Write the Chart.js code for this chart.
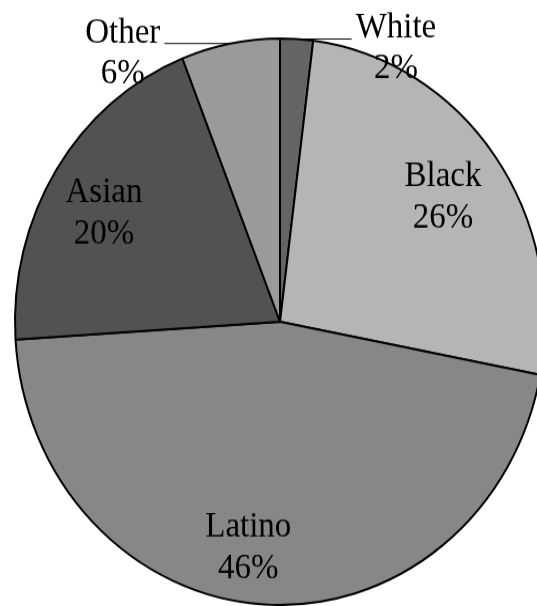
<!DOCTYPE html>
<html>
<head>
<meta charset="utf-8">
<script src="https://cdn.jsdelivr.net/npm/chart.js@4.4.1/dist/chart.umd.min.js"></script>
<style>
	body {margin:0; background:#ffffff;}
	#ChartFrame {width:537px; height:606px; overflow:hidden; background:#ffffff;}
	/* the pie is drawn round, then stretched a little taller */
	#ChartStretch {width:560px; height:567px; transform:scaleY(1.0688); transform-origin:0 0;}
</style>
</head>
<body>
<div id="ChartFrame"><div id="ChartStretch"><canvas id="EthnicityPie" width="560" height="567"></canvas></div></div>
<script>
var ChartLabels = ['White','Black','Latino','Asian','Other'];
var ChartValues = [2,26,46,20,6];
var ChartColors = ['#646464','#b5b5b5','#878787','#525252','#9a9a9a'];

/* =========================================================== SLICE LABEL plugin START =========================================================== */
var SliceLabelPlugin =
{
	id:'sliceLabels',
	afterDatasetsDraw: function(chart,args,opts)
	{
		var ctx = chart.ctx;
		var meta = chart.getDatasetMeta(0);
		ctx.save();
		ctx.font = opts.font;
		ctx.fillStyle = '#000000';
		ctx.strokeStyle = '#000000';
		ctx.textAlign = 'center';
		ctx.textBaseline = 'alphabetic';

		meta.data.forEach(function(arc,i)
		{
			var place = opts.placement[i] || {};
			var mid = (arc.startAngle+arc.endAngle)/2 + (place.turn || 0)*Math.PI/180;
			var lines = [ChartLabels[i], ChartValues[i]+'%'];

			if(place.leader)
			{
				//small slices: label outside with a flat leader line
				var ex = arc.x + Math.cos(mid)*arc.outerRadius;
				var ey = arc.y + Math.sin(mid)*arc.outerRadius;
				var dir = Math.cos(mid) >= 0 ? 1 : -1;
				var endX = ex + dir*place.leader;
				ctx.beginPath();
				ctx.lineWidth = 1;
				ctx.moveTo(ex,ey);
				ctx.lineTo(endX,ey);
				ctx.stroke();
				var w = ctx.measureText(lines[0]).width;
				var textX = endX + dir*(opts.gap + w/2);
				var base = ey + (place.lift || 0);
				ctx.fillText(lines[0],textX,base);
				ctx.fillText(lines[1],textX,base+opts.lineHeight);
			}
			else
			{
				var r = arc.outerRadius*(place.depth || opts.depth);
				var cx = arc.x + Math.cos(mid)*r;
				var cy = arc.y + Math.sin(mid)*r;
				//centre the block between cap top of line 1 and baseline of line 2
				var first = cy - (opts.capHeight+opts.lineHeight)/2 + opts.capHeight;
				ctx.fillText(lines[0],cx,first);
				ctx.fillText(lines[1],cx,first+opts.lineHeight);
			}
		});
		ctx.restore();
	}
};
/* =========================================================== SLICE LABEL plugin END =========================================================== */

var ChartDataToDisplay =
{
	labels:ChartLabels,
	datasets: [{
				data:ChartValues,
				backgroundColor:ChartColors,
				borderColor:'#000000',
				borderWidth:2
			  }]
};

var ChartOptions =
{
	responsive:false,
	animation:false,
	layout:{padding:{left:14,right:14,top:35,bottom:0}},
	plugins:{
				legend:{display:false},
				tooltip:{enabled:false},
				sliceLabels:
				{
					font:'33px "Liberation Serif", "Times New Roman", serif',
					lineHeight:38.5,
					capHeight:21.8,
					gap:4,
					depth:0.76,
					placement:{
						0:{leader:55,lift:-2},
						2:{turn:5,depth:0.8},
						3:{turn:-2,depth:0.77},
						4:{leader:66,lift:-1}
					}
				}
			}
};

var ChartCreator = new Chart(document.getElementById('EthnicityPie'), {
	type:'pie',
	data:ChartDataToDisplay,
	options:ChartOptions,
	plugins:[SliceLabelPlugin]
});
</script>
</body>
</html>
